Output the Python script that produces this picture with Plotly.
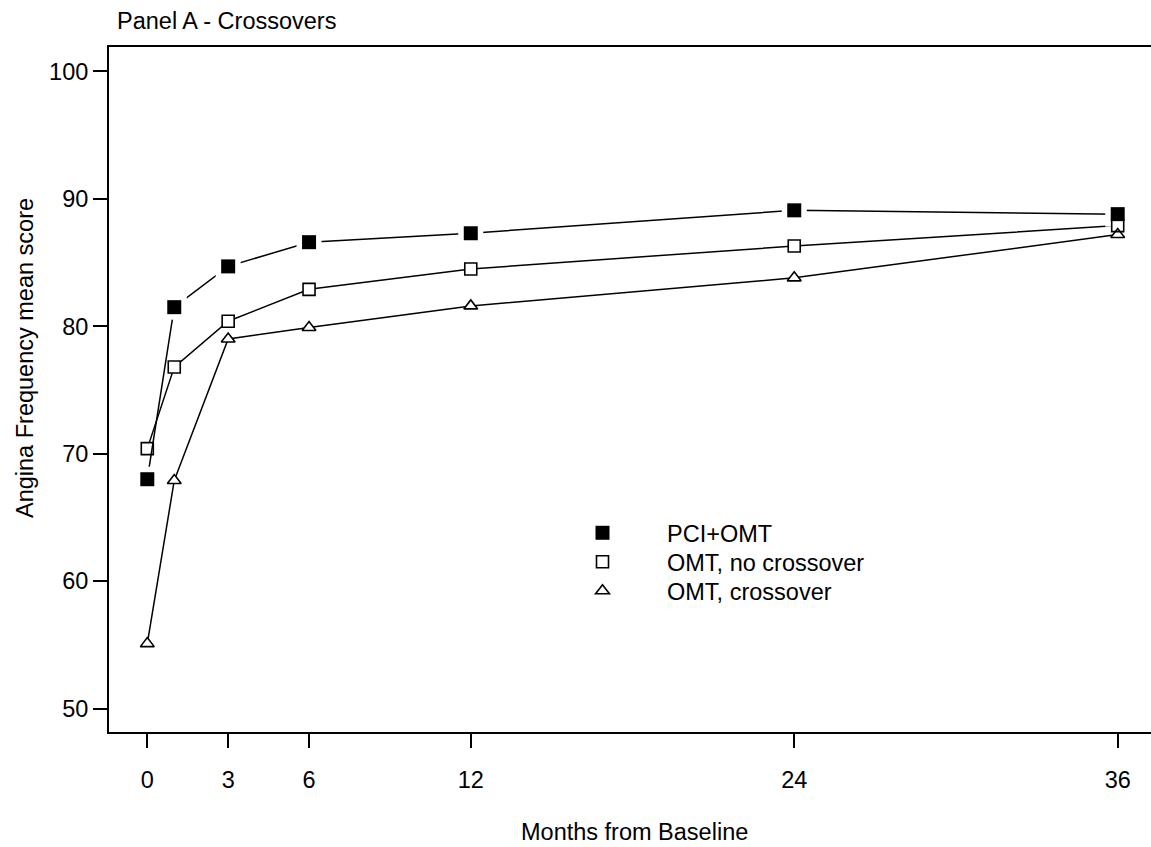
import plotly.graph_objects as go

# Visit schedule (months from baseline) and mean Angina Frequency scores
months = [0, 1, 3, 6, 12, 24, 36]
pci_omt = [68.0, 81.5, 84.7, 86.6, 87.3, 89.1, 88.8]
omt_no_crossover = [70.4, 76.8, 80.4, 82.9, 84.5, 86.3, 87.9]
omt_crossover = [55.1, 67.9, 79.0, 79.9, 81.6, 83.8, 87.2]

series_names = ["PCI+OMT", "OMT, no crossover", "OMT, crossover"]
x_tick_vals = [0, 3, 6, 12, 24, 36]
y_tick_vals = [50, 60, 70, 80, 90, 100]

FONT = "Liberation Sans, Arial, sans-serif"
FS = 23.5
BLACK = "#000000"
LINE_W = 1.5

fig = go.Figure()

# Lines of the two OMT groups; white markers blank the line inside each symbol
fig.add_trace(go.Scatter(
    x=months, y=omt_crossover, mode="lines+markers", showlegend=False,
    line=dict(color=BLACK, width=LINE_W),
    marker=dict(symbol="triangle-up", size=12, color="white", line=dict(width=0)),
    hoverinfo="skip",
))
fig.add_trace(go.Scatter(
    x=months, y=omt_no_crossover, mode="lines+markers", showlegend=False,
    line=dict(color=BLACK, width=LINE_W),
    marker=dict(symbol="square", size=12, color="white", line=dict(width=0)),
    hoverinfo="skip",
))
# PCI+OMT line with a white halo so the line stops short of each square
fig.add_trace(go.Scatter(
    x=months, y=pci_omt, mode="lines+markers", showlegend=False,
    line=dict(color=BLACK, width=LINE_W),
    marker=dict(symbol="square", size=25, color="white", line=dict(width=0)),
    hoverinfo="skip",
))

# Visible symbols; each one also feeds its own legend row
fig.add_trace(go.Scatter(
    x=months, y=omt_crossover, mode="markers", name=series_names[2],
    legend="legend3",
    marker=dict(symbol="triangle-up-open", size=12, color=BLACK,
                line=dict(color=BLACK, width=1.6)),
))
fig.add_trace(go.Scatter(
    x=months, y=omt_no_crossover, mode="markers", name=series_names[1],
    legend="legend2",
    marker=dict(symbol="square-open", size=12, color=BLACK,
                line=dict(color=BLACK, width=1.6)),
))
fig.add_trace(go.Scatter(
    x=months, y=pci_omt, mode="markers", name=series_names[0],
    legend="legend",
    marker=dict(symbol="square", size=14, color=BLACK, line=dict(width=0)),
))

W, H = 1151, 847
ML, MR, MT, MB = 109, 0, 47, 115
plot_w = W - ML - MR
plot_h = H - MT - MB


def legend_row(center_y):
    """Legend box placed so its single row is centred on center_y (pixels)."""
    return dict(
        x=(538 - ML) / plot_w, y=1 - (center_y - 22 - MT) / plot_h,
        xanchor="left", yanchor="top",
        bgcolor="rgba(0,0,0,0)", borderwidth=0,
        itemwidth=119,
        font=dict(family=FONT, size=FS, color=BLACK),
        itemclick=False, itemdoubleclick=False,
    )


fig.update_layout(
    width=W, height=H,
    margin=dict(l=ML, r=MR, t=MT, b=MB, pad=0),
    paper_bgcolor="white", plot_bgcolor="white",
    font=dict(family=FONT, size=FS, color=BLACK),
    showlegend=True,
    legend=legend_row(533),
    legend2=legend_row(562),
    legend3=legend_row(591),
    xaxis=dict(
        range=[-1.421, 37.235],
        tickmode="array", tickvals=x_tick_vals,
        ticktext=[str(v) for v in x_tick_vals],
        ticks="outside", ticklen=14, tickwidth=1.5, tickcolor=BLACK,
        ticklabelstandoff=12,
        showline=True, linewidth=2, linecolor=BLACK, mirror=True,
        showgrid=False, zeroline=False,
        tickfont=dict(family=FONT, size=FS, color=BLACK),
    ),
    yaxis=dict(
        range=[48.165, 101.915],
        tickmode="array", tickvals=y_tick_vals,
        ticktext=[str(v) for v in y_tick_vals],
        ticks="outside", ticklen=14, tickwidth=1.5, tickcolor=BLACK,
        showline=True, linewidth=2, linecolor=BLACK, mirror=False,
        showgrid=False, zeroline=False,
        tickfont=dict(family=FONT, size=FS, color=BLACK),
    ),
    annotations=[
        dict(text="Panel A - Crossovers", xref="paper", yref="paper",
             x=(115 - ML) / plot_w, y=1 + (MT - 21) / plot_h,
             xanchor="left", yanchor="middle", showarrow=False,
             font=dict(family=FONT, size=FS, color=BLACK)),
        dict(text="Months from Baseline", xref="paper", yref="paper",
             x=(634 - ML) / plot_w, y=-(832 - (H - MB)) / plot_h,
             xanchor="center", yanchor="middle", showarrow=False,
             font=dict(family=FONT, size=FS, color=BLACK)),
        dict(text="Angina Frequency mean score", xref="paper", yref="paper",
             x=(25 - ML) / plot_w, y=((H - MB) - 358) / plot_h,
             xanchor="center", yanchor="middle", showarrow=False, textangle=-90,
             font=dict(family=FONT, size=FS, color=BLACK)),
    ],
)

fig.write_html("out.html")
